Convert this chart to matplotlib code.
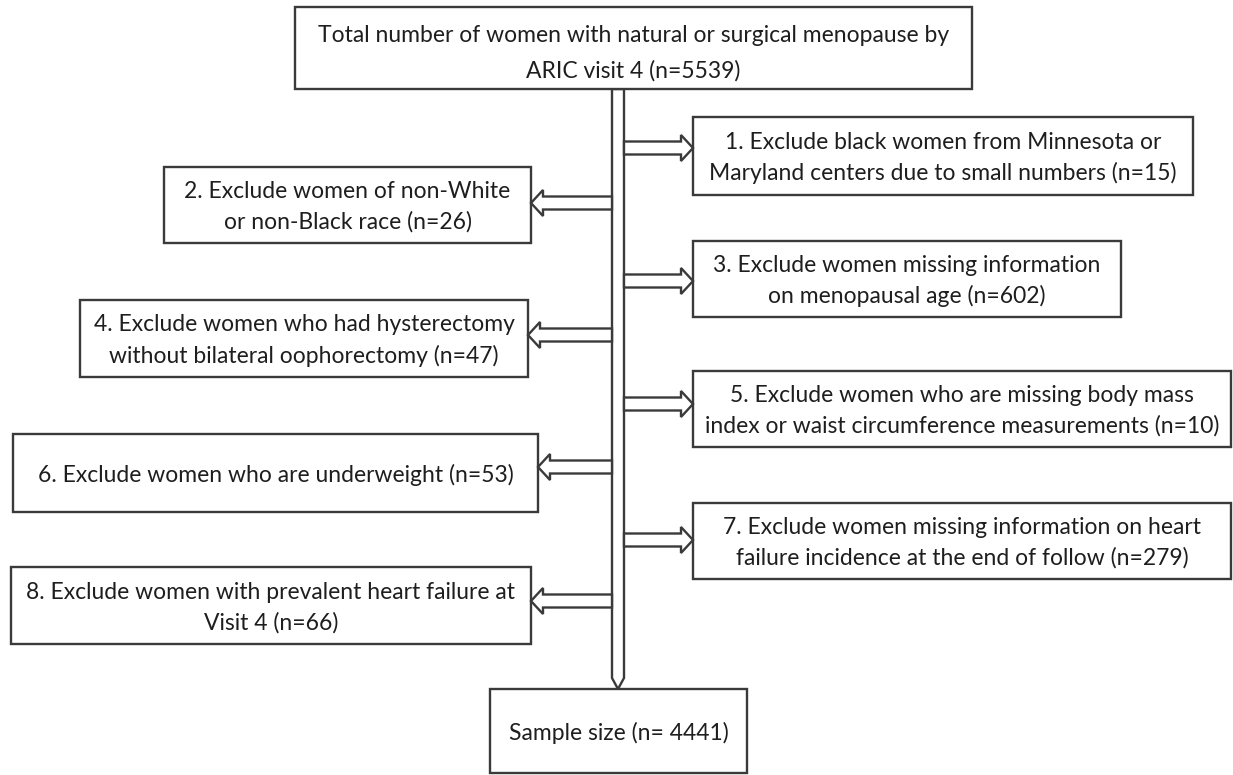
import matplotlib.pyplot as plt
from matplotlib.patches import Rectangle, Polygon

plt.rcParams['font.family'] = ['Lato', 'DejaVu Sans']

# texts of the flowchart
top_text = "Total number of women with natural or surgical menopause by\nARIC visit 4 (n=5539)"
steps = [
    "1. Exclude black women from Minnesota or\nMaryland centers due to small numbers",
    "2. Exclude women of non-White\nor non-Black race",
    "3. Exclude women missing information\non menopausal age",
    "4. Exclude women who had hysterectomy\nwithout bilateral oophorectomy",
    "5. Exclude women who are missing body mass\nindex or waist circumference measurements",
    "6. Exclude women who are underweight",
    "7. Exclude women missing information on heart\nfailure incidence at the end of follow",
    "8. Exclude women with prevalent heart failure at\nVisit 4",
]
excluded = [15, 26, 602, 47, 10, 53, 279, 66]
final_text = "Sample size (n= 4441)"

# layout in pixels (x0, x1, y0, y1) and arrow centre y
boxes = [
    (693, 1193, 117, 195),
    (164, 531, 167, 243),
    (693, 1121, 241, 317),
    (80, 528, 300, 377),
    (693, 1231, 371, 447),
    (13, 538, 434, 512),
    (693, 1231, 503, 579),
    (11, 531, 567, 644),
]
arrow_y = [148, 203, 281, 335, 404, 467, 540, 601]
sides = ["R", "L", "R", "L", "R", "L", "R", "L"]

EC = "#3a3a3a"
FS = 16.5

fig = plt.figure(figsize=(12.33, 7.75), dpi=100)
ax = fig.add_axes([0, 0, 1, 1])
ax.set_xlim(0, 1233)
ax.set_ylim(775, 0)
ax.axis("off")


def box(x0, x1, y0, y1, text, ls=1.5, dy=2):
    ax.add_patch(Rectangle((x0, y0), x1 - x0, y1 - y0, fc="white", ec=EC, lw=1.7, zorder=2))
    ax.text((x0 + x1) / 2, (y0 + y1) / 2 + dy, text, ha="center", va="center",
            fontsize=FS, color="#1e1e1e", linespacing=ls, zorder=3)


box(295, 972, 7, 89, top_text, ls=1.8, dy=5)
box(490, 747, 689, 773, final_text)

# central shaft
sx0, sx1 = 612, 624
ax.add_patch(Polygon([(sx0, 89), (sx1, 89), (sx1, 678), ((sx0 + sx1) / 2, 689), (sx0, 678)],
                     closed=True, fc="white", ec=EC, lw=1.7, zorder=1))

for i, (txt, n) in enumerate(zip(steps, excluded)):
    x0, x1, y0, y1 = boxes[i]
    box(x0, x1, y0, y1, f"{txt} (n={n})")
    y = arrow_y[i]
    bh, hh, hl = 6.5, 13, 12
    if sides[i] == "R":
        s, t = sx1, x0
        pts = [(s, y - bh), (t - hl, y - bh), (t - hl, y - hh), (t, y),
               (t - hl, y + hh), (t - hl, y + bh), (s, y + bh)]
    else:
        s, t = sx0, x1
        pts = [(s, y - bh), (t + hl, y - bh), (t + hl, y - hh), (t, y),
               (t + hl, y + hh), (t + hl, y + bh), (s, y + bh)]
    ax.add_patch(Polygon(pts, closed=True, fc="white", ec=EC, lw=1.7, zorder=2))

fig.savefig("out.png", dpi=100)
